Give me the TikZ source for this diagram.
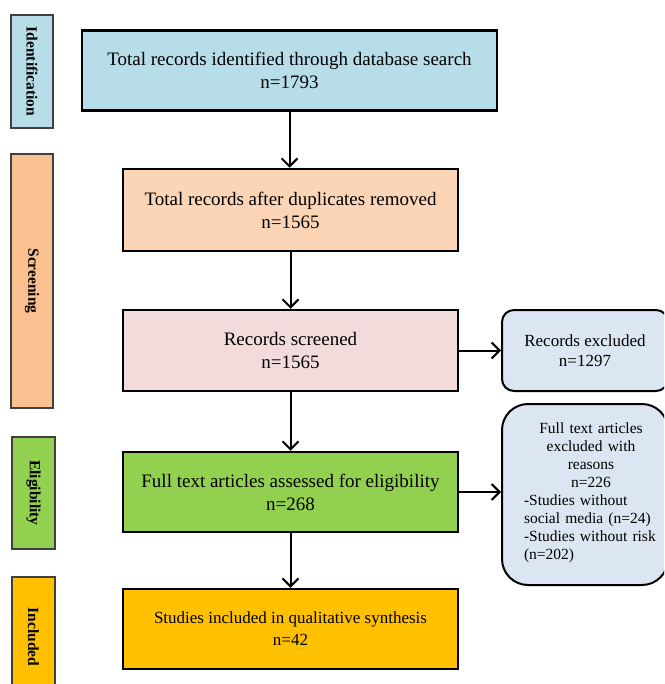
\documentclass[tikz,border=0pt]{standalone}
\usepackage{fontspec}
\setmainfont{Liberation Serif}
\usetikzlibrary{arrows.meta}
\definecolor{cIdent}{HTML}{B7DDE8}
\definecolor{cScreenLab}{HTML}{FAC090}
\definecolor{cScreenBox}{HTML}{FBD5B5}
\definecolor{cPink}{HTML}{F2DCDB}
\definecolor{cGreen}{HTML}{92D050}
\definecolor{cGold}{HTML}{FFC000}
\definecolor{cSide}{HTML}{DCE6F2}
\definecolor{cLabEdge}{HTML}{404040}
\tikzset{
  mainbox/.style={draw=black, line width=2.5pt, rectangle, inner sep=0pt, align=center,
    font=\fontsize{19}{23}\selectfont},
  phase/.style={draw=cLabEdge, line width=1.3pt, rectangle, inner sep=0pt, rotate=-90,
    font=\fontsize{15.5}{18}\selectfont\bfseries},
  sidebox/.style={draw=black, line width=2pt, rectangle, inner sep=0pt, fill=cSide},
  flow/.style={line width=2pt, -{Straight Barb[length=8pt,width=16pt,line width=2pt]}},
}
\begin{document}
\begin{tikzpicture}[x=1pt,y=-1pt]
\useasboundingbox (0,0) rectangle (664,684);
\begin{scope}
\clip (0,0) rectangle (664,684);
% phase labels
\node[phase, fill=cIdent, minimum width=113pt, minimum height=42pt] (pid) at (32,71.5) {Identification};
\node[phase, fill=cScreenLab, minimum width=254pt, minimum height=42pt] (psc) at (32,281) {Screening};
\node[phase, fill=cGreen, minimum width=112pt, minimum height=43pt] (pel) at (33.5,493) {Eligibility};
\node[phase, fill=cGold, minimum width=120pt, minimum height=43pt] (pin) at (33.5,637) {Included};
% main boxes
\node[mainbox, fill=cIdent, minimum width=415pt, minimum height=80pt] (b1) at (289.5,70.5)
  {Total records identified through database search\\n=1793};
\node[mainbox, fill=cScreenBox, minimum width=335pt, minimum height=82pt] (b2) at (290.5,210)
  {Total records after duplicates removed\\n=1565};
\node[mainbox, fill=cPink, minimum width=335pt, minimum height=81pt] (b3) at (290.5,350.5)
  {Records screened\\n=1565};
\node[mainbox, fill=cGreen, minimum width=335pt, minimum height=80pt] (b4) at (290.5,492)
  {Full text articles assessed for eligibility\\n=268};
\node[mainbox, fill=cGold, minimum width=335pt, minimum height=80pt,
  font=\fontsize{17}{22}\selectfont] (b5) at (290.5,629)
  {Studies included in qualitative synthesis\\n=42};
% side boxes
\node[sidebox, rounded corners=12pt, minimum width=166pt, minimum height=81pt, align=center,
  font=\fontsize{17}{20}\selectfont] (r1) at (585,350.5) {Records excluded\\n=1297};
\node[sidebox, rounded corners=26pt, minimum width=166pt, minimum height=181pt] (r2) at (585,494.5) {};
\node[font=\fontsize{15.5}{18}\selectfont, text width=134pt, inner sep=0pt] (r2t) at (591,493)
  {{\centering Full text articles\\ excluded with\\ reasons\\ n=226\par}\raggedright -Studies without\\ social media (n=24)\\ -Studies without risk\\ (n=202)};
% connectors
\draw[flow] (b1.south) -- (b1.south |- b2.north);
\draw[flow] (b2.south) -- (b3.north);
\draw[flow] (b3.south) -- (b4.north);
\draw[flow] (b4.south) -- (b5.north);
\draw[flow] (b3.east) -- (r1.west);
\draw[flow] (b4.east) -- (b4.east -| r2.west);
\end{scope}
\end{tikzpicture}
\end{document}
